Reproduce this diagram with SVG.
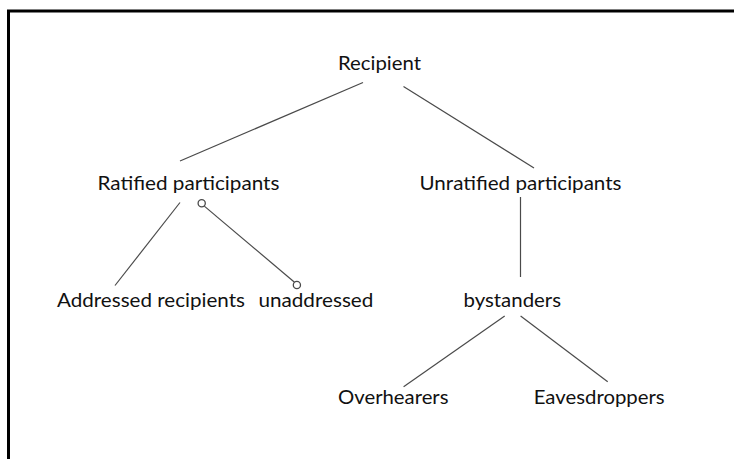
<svg xmlns="http://www.w3.org/2000/svg" width="734" height="459" viewBox="0 0 734 459">
<style>
.t{font-family:"Lato","Open Sans","Liberation Sans",sans-serif;font-size:20px;fill:#111}
.c{stroke:#4a4a4a;stroke-width:1.2;fill:none}
.o{stroke:#4a4a4a;stroke-width:1.3;fill:#fff}
</style>
<rect width="734" height="459" fill="#fff"/>
<path d="M8.5 459 V11 H734" stroke="#000" stroke-width="3" fill="none"/>
<g id="connectors">
<line class="c" x1="363" y1="82.5" x2="180" y2="161"/>
<line class="c" x1="403.5" y1="86.5" x2="534" y2="168"/>
<line class="c" x1="180" y1="202.5" x2="115" y2="285.5"/>
<line class="c" x1="204.3" y1="206.1" x2="294.5" y2="282.2"/>
<circle class="o" cx="201.7" cy="203.3" r="3.6"/>
<circle class="o" cx="296.9" cy="285" r="3.6"/>
<line class="c" x1="520.5" y1="197" x2="520.5" y2="277"/>
<line class="c" x1="504.7" y1="316" x2="403.6" y2="386.7"/>
<line class="c" x1="520.6" y1="316" x2="607.7" y2="381.7"/>
</g>
<g id="recipient"><text class="t" x="338" y="70" textLength="83" lengthAdjust="spacingAndGlyphs">Recipient</text></g>
<g id="ratified"><text class="t" x="97.5" y="190" textLength="182" lengthAdjust="spacingAndGlyphs">Ratified participants</text></g>
<g id="unratified"><text class="t" x="419.5" y="190" textLength="202" lengthAdjust="spacingAndGlyphs">Unratified participants</text></g>
<g id="addressed"><text class="t" x="57" y="307" textLength="188" lengthAdjust="spacingAndGlyphs">Addressed recipients</text></g>
<g id="unaddressed"><text class="t" x="258.4" y="307" textLength="115" lengthAdjust="spacingAndGlyphs">unaddressed</text></g>
<g id="bystanders"><text class="t" x="463.5" y="307" textLength="97.5" lengthAdjust="spacingAndGlyphs">bystanders</text></g>
<g id="overhearers"><text class="t" x="338" y="404" textLength="110.5" lengthAdjust="spacingAndGlyphs">Overhearers</text></g>
<g id="eavesdroppers"><text class="t" x="533.7" y="404" textLength="131" lengthAdjust="spacingAndGlyphs">Eavesdroppers</text></g>
</svg>
